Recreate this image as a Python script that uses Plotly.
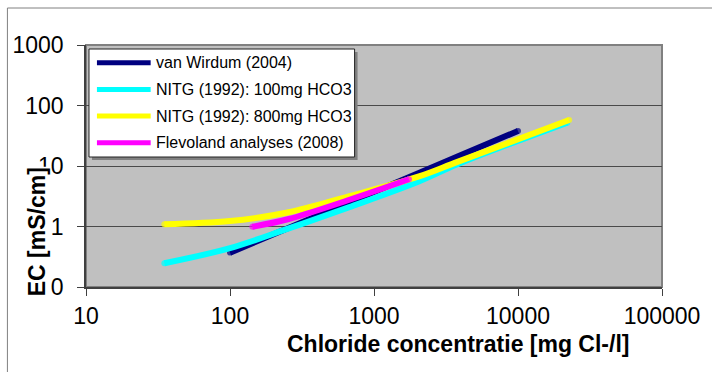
import plotly.graph_objects as go

# Chloride concentration (mg Cl-/l) vs electrical conductivity (mS/cm)
names = [
    "van Wirdum (2004)",
    "NITG (1992): 100mg HCO3",
    "NITG (1992): 800mg HCO3",
    "Flevoland analyses (2008)",
]
colors = ["#000080", "#00FFFF", "#FFFF00", "#FF00FF"]

wirdum_cl = [100, 667, 2028, 3837, 10000]
wirdum_ec = [0.37, 2.4, 7.6, 14.5, 38]

nitg100_cl = [35, 100, 256, 667, 2028, 3837, 22000]
nitg100_ec = [0.247, 0.44, 0.93, 2.07, 5.5, 10.8, 52]

nitg800_cl = [35, 100, 256, 667, 2028, 3837, 22650]
nitg800_ec = [1.09, 1.23, 1.72, 3.15, 6.65, 11.8, 57.5]

flevo_cl = [143, 256, 667, 1750]
flevo_ec = [0.99, 1.33, 2.74, 6.03]

x_ticks = [10, 100, 1000, 10000, 100000]
x_ticktext = ["10", "100", "1000", "10000", "100000"]
y_ticks = [0.1, 1, 10, 100, 1000]
y_ticktext = ["0", "1", "10", "100", "1000"]

series = [
    (wirdum_cl, wirdum_ec, "linear"),
    (nitg100_cl, nitg100_ec, "spline"),
    (nitg800_cl, nitg800_ec, "spline"),
    (flevo_cl, flevo_ec, "spline"),
]

W, H = 712, 372
L, R, T, B = 86, 47, 45, 85
pw, ph = W - L - R, H - T - B


def px_to_paper(px, py):
    return (px - L) / pw, (H - B - py) / ph


FONT = "Liberation Sans, Arial, sans-serif"
LW = 6

fig = go.Figure()
for (xs, ys, shape), name, col in zip(series, names, colors):
    n = len(xs)
    sizes = [LW] + [0] * (n - 2) + [LW]
    fig.add_trace(go.Scatter(
        x=xs, y=ys, name=name, mode="lines+markers",
        line=dict(color=col, width=LW, shape=shape, smoothing=1.0),
        marker=dict(color=col, size=sizes, line=dict(width=0)),
        showlegend=False, hoverinfo="skip",
    ))

shapes = []
annotations = []

# outer chart frame
fx0, fy0 = px_to_paper(7, 8)
fx1, fy1 = px_to_paper(730, 390)
shapes.append(dict(type="rect", xref="paper", yref="paper",
                   x0=fx0, y0=fy1, x1=fx1, y1=fy0,
                   line=dict(color="#808080", width=1), layer="below"))

# plot-area frame
shapes.append(dict(type="rect", xref="paper", yref="paper",
                   x0=0, y0=0, x1=1, y1=1,
                   line=dict(color="#808080", width=2), layer="below"))

# legend box with shadow
lx0, ly0, lx1, ly1 = 89, 49, 356, 157
sx0, sy0 = px_to_paper(lx0 + 3, ly0 + 3)
sx1, sy1 = px_to_paper(lx1 + 3, ly1 + 3)
shapes.append(dict(type="rect", xref="paper", yref="paper",
                   x0=sx0, y0=sy1, x1=sx1, y1=sy0,
                   fillcolor="#808080", line=dict(width=0), layer="above"))
bx0, by0 = px_to_paper(lx0, ly0)
bx1, by1 = px_to_paper(lx1, ly1)
shapes.append(dict(type="rect", xref="paper", yref="paper",
                   x0=bx0, y0=by1, x1=bx1, y1=by0,
                   fillcolor="white", line=dict(color="#222222", width=1),
                   layer="above"))

row0, row_gap = 62.7, 26.7
for i, (name, col) in enumerate(zip(names, colors)):
    ry = row0 + i * row_gap
    ax0, ay = px_to_paper(97, ry)
    ax1, _ = px_to_paper(151, ry)
    shapes.append(dict(type="line", xref="paper", yref="paper",
                       x0=ax0, y0=ay, x1=ax1, y1=ay,
                       line=dict(color=col, width=5), layer="above"))
    tx, _ = px_to_paper(154, ry)
    annotations.append(dict(xref="paper", yref="paper", x=tx, y=ay,
                            xanchor="left", yanchor="middle", showarrow=False,
                            text=name, font=dict(family=FONT, size=16, color="black")))

# axis titles
xt, yt = px_to_paper(460, 344)
annotations.append(dict(xref="paper", yref="paper", x=xt, y=yt,
                        xanchor="center", yanchor="middle", showarrow=False,
                        text="<b>Chloride concentratie [mg Cl-/l]</b>",
                        font=dict(family=FONT, size=23, color="black")))
xt, yt = px_to_paper(37, 232)
annotations.append(dict(xref="paper", yref="paper", x=xt, y=yt,
                        xanchor="center", yanchor="middle", showarrow=False,
                        textangle=-90, bgcolor="white", borderpad=0,
                        text="<b>EC [mS/cm]</b>",
                        font=dict(family=FONT, size=23, color="black")))

fig.update_layout(
    width=W, height=H,
    margin=dict(l=L, r=R, t=T, b=B, pad=0),
    paper_bgcolor="white",
    plot_bgcolor="#C0C0C0",
    shapes=shapes,
    annotations=annotations,
    showlegend=False,
)
fig.update_xaxes(
    type="log", range=[1, 5],
    tickvals=x_ticks, ticktext=x_ticktext,
    ticks="outside", ticklen=7, tickcolor="#404040", tickwidth=1,
    showline=True, linecolor="#404040", linewidth=1.5,
    showgrid=False, zeroline=False,
    ticklabelstandoff=1,
    tickfont=dict(family=FONT, size=23, color="black"),
)
fig.update_yaxes(
    type="log", range=[-1, 3],
    tickvals=y_ticks, ticktext=y_ticktext,
    ticks="outside", ticklen=7, tickcolor="#404040", tickwidth=1,
    showline=True, linecolor="#404040", linewidth=1.5,
    showgrid=True, gridcolor="#4a4a4a", gridwidth=1.2,
    zeroline=False,
    ticklabelstandoff=9,
    tickfont=dict(family=FONT, size=23, color="black"),
)

fig.write_html("out.html")
